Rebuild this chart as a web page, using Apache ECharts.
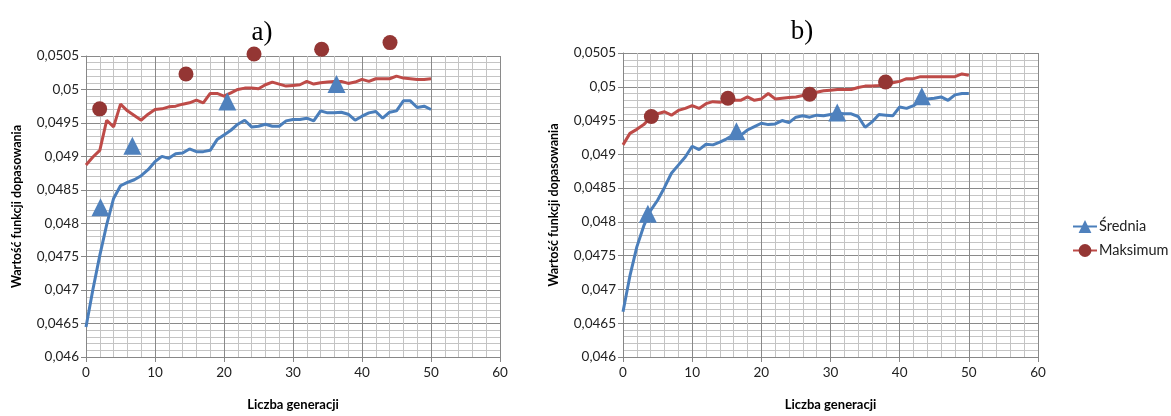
<!DOCTYPE html>
<html>
<head>
<meta charset="utf-8">
<script src="https://cdn.jsdelivr.net/npm/echarts@6/dist/echarts.min.js"></script>
<style>
html,body{margin:0;padding:0;background:#fff;}
#chart{width:1171px;height:416px;}
</style>
</head>
<body>
<div id="chart"></div>
<script>
// ---- data ----
const generations = Array.from({length: 51}, (_, i) => i); // 0..50
const xTicks = [0, 10, 20, 30, 40, 50, 60];
const yTicks = [0.046, 0.0465, 0.047, 0.0475, 0.048, 0.0485, 0.049, 0.0495, 0.05, 0.0505];

const avgA = [0.04645,0.04701,0.04752,0.04798,0.04837,0.04856,0.04861,0.04865,0.04871,0.0488,
  0.04892,0.049,0.04897,0.04904,0.04905,0.04911,0.04907,0.04907,0.04909,0.04925,
  0.04932,0.04939,0.04948,0.04954,0.04944,0.04945,0.04948,0.04945,0.04945,0.04953,
  0.04955,0.04955,0.04957,0.04953,0.04968,0.04965,0.04965,0.04966,0.04963,0.04954,
  0.0496,0.04965,0.04967,0.04957,0.04966,0.04968,0.04983,0.04983,0.04973,0.04975,0.0497];
const maxA = [0.04887,0.04899,0.04909,0.04954,0.04944,0.04978,0.04968,0.04961,0.04954,0.04963,
  0.0497,0.04971,0.04974,0.04975,0.04978,0.0498,0.04984,0.0498,0.04994,0.04994,
  0.0499,0.04995,0.05,0.05002,0.05002,0.05001,0.05007,0.05011,0.05008,0.05005,
  0.05006,0.05007,0.05012,0.05008,0.0501,0.05011,0.05012,0.05012,0.05009,0.05011,
  0.05015,0.05012,0.05016,0.05016,0.05016,0.0502,0.05017,0.05016,0.05015,0.05015,0.05016];
const avgB = [0.04667,0.0472,0.04763,0.04794,0.04817,0.04832,0.04851,0.04872,0.04884,0.04896,
  0.04912,0.04907,0.04915,0.04914,0.04918,0.04923,0.04929,0.04928,0.04936,0.04941,
  0.04946,0.04944,0.04945,0.0495,0.04947,0.04955,0.04957,0.04955,0.04958,0.04957,
  0.04959,0.04961,0.0496,0.0496,0.04956,0.0494,0.04948,0.04959,0.04958,0.04957,
  0.0497,0.04968,0.04972,0.0498,0.04982,0.04983,0.04985,0.0498,0.04988,0.0499,0.0499];
const maxB = [0.04914,0.04931,0.04937,0.04944,0.04955,0.0496,0.04963,0.04958,0.04965,0.04968,
  0.04972,0.04968,0.04975,0.04978,0.04977,0.0498,0.0498,0.0498,0.04985,0.0498,
  0.04982,0.0499,0.04982,0.04983,0.04984,0.04985,0.04987,0.04989,0.04992,0.04994,
  0.04995,0.04996,0.04996,0.04996,0.04999,0.05001,0.05001,0.05002,0.05004,0.05006,
  0.05008,0.05012,0.05012,0.05015,0.05015,0.05015,0.05015,0.05015,0.05015,0.05019,0.05017];

// marker positions (as drawn in the reference)
const triAx = [2.1, 6.72, 20.48, 36.3];
const triAy = [0.04824, 0.04916, 0.04982, 0.05008];
const cirAx = [1.98, 14.49, 24.35, 34.15, 44.06];
const cirAy = [0.04971, 0.05023, 0.05053, 0.0506, 0.0507];
const triBx = [3.6, 16.4, 30.98, 43.2];
const triBy = [0.04812, 0.04934, 0.04962, 0.04986];
const cirBx = [4.1, 15.17, 26.98, 37.96];
const cirBy = [0.04956, 0.04983, 0.04989, 0.05007];

const seriesNames = ['Średnia', 'Maksimum'];
const titles = ['a)', 'b)'];
const xName = 'Liczba generacji';
const yName = 'Wartość funkcji dopasowania';

// ---- styles ----
const BLUE_LINE = '#4A7EBB', BLUE_MARK = '#4F81BD';
const RED_LINE = '#BE4B48', RED_MARK = '#943634';
const FONT = 'Lato';

function pairs(xs, ys) { return xs.map((x, i) => [x, ys[i]]); }
function fmtY(v) { return String(parseFloat(v.toFixed(4))).replace('.', ','); }

function xAxis(gi) {
  return {
    type: 'value', gridIndex: gi, min: 0, max: 60, interval: 10,
    name: xName, nameLocation: 'middle', nameGap: 41,
    nameTextStyle: {fontFamily: FONT, fontSize: 13, fontWeight: 'bold', color: '#000'},
    axisLine: {show: true, lineStyle: {color: '#878787', width: 1}},
    axisTick: {show: true, length: 5, lineStyle: {color: '#878787'}},
    axisLabel: {fontFamily: FONT, fontSize: 13.5, color: '#222', margin: 9},
    splitLine: {show: true, lineStyle: {color: '#8a8a8a', width: 1}},
    minorTick: {show: false, splitNumber: 5},
    minorSplitLine: {show: true, lineStyle: {color: '#c4c4c4', width: 1}}
  };
}
function yAxis(gi) {
  return {
    type: 'value', gridIndex: gi, min: 0.046, max: 0.0505, interval: 0.0005,
    name: yName, nameLocation: 'middle', nameGap: 63, nameRotate: 90,
    nameTextStyle: {fontFamily: FONT, fontSize: 12.5, fontWeight: 'bold', color: '#000'},
    axisLine: {show: true, lineStyle: {color: '#878787', width: 1}},
    axisTick: {show: true, length: 5, lineStyle: {color: '#878787'}},
    axisLabel: {fontFamily: FONT, fontSize: 13.5, color: '#222', margin: 7, formatter: fmtY},
    splitLine: {show: true, lineStyle: {color: '#8a8a8a', width: 1}},
    minorTick: {show: false, splitNumber: 5},
    minorSplitLine: {show: true, lineStyle: {color: '#c4c4c4', width: 1}}
  };
}
function lineSeries(name, gi, ys, lineColor, markColor, symbol) {
  return {
    name, type: 'line', xAxisIndex: gi, yAxisIndex: gi,
    data: generations.map((g, i) => [g, ys[i]]),
    symbol, showSymbol: false, smooth: false,
    lineStyle: {color: lineColor, width: 3},
    itemStyle: {color: markColor},
    emphasis: {disabled: true}, z: 3
  };
}
function markSeries(name, gi, xs, ys, color, symbol, size) {
  return {
    name, type: 'scatter', xAxisIndex: gi, yAxisIndex: gi,
    data: pairs(xs, ys), symbol, symbolSize: size, clip: false,
    itemStyle: {color, opacity: 1}, emphasis: {disabled: true}, z: 5
  };
}

const chart = echarts.init(document.getElementById('chart'), null, {renderer: 'canvas'});
chart.setOption({
  animation: false,
  backgroundColor: '#fff',
  title: [
    {text: titles[0], left: 257, top: 28, textAlign: 'center', textVerticalAlign: 'middle',
     textStyle: {fontFamily: 'Liberation Serif', fontSize: 27, fontWeight: 'normal', color: '#000'}},
    {text: titles[1], left: 797, top: 27, textAlign: 'center', textVerticalAlign: 'middle',
     textStyle: {fontFamily: 'Liberation Serif', fontSize: 27, fontWeight: 'normal', color: '#000'}}
  ],
  legend: {
    data: seriesNames, orient: 'vertical', left: 1067, top: 214,
    itemWidth: 24, itemHeight: 16, itemGap: 9,
    textStyle: {fontFamily: FONT, fontSize: 14.5, color: '#222', padding: [0, 0, 0, -3]},
    selectedMode: false
  },
  grid: [
    {left: 86, top: 56, width: 414, height: 310, containLabel: false},
    {left: 623, top: 53, width: 415, height: 315, containLabel: false}
  ],
  xAxis: [xAxis(0), xAxis(1)],
  yAxis: [yAxis(0), yAxis(1)],
  series: [
    lineSeries(seriesNames[0], 0, avgA, BLUE_LINE, BLUE_MARK, 'triangle'),
    lineSeries(seriesNames[1], 0, maxA, RED_LINE, RED_MARK, 'circle'),
    markSeries(seriesNames[0], 0, triAx, triAy, BLUE_MARK, 'triangle', 18),
    markSeries(seriesNames[1], 0, cirAx, cirAy, RED_MARK, 'circle', 15),
    lineSeries(seriesNames[0], 1, avgB, BLUE_LINE, BLUE_MARK, 'triangle'),
    lineSeries(seriesNames[1], 1, maxB, RED_LINE, RED_MARK, 'circle'),
    markSeries(seriesNames[0], 1, triBx, triBy, BLUE_MARK, 'triangle', 18),
    markSeries(seriesNames[1], 1, cirBx, cirBy, RED_MARK, 'circle', 15)
  ]
});
</script>
</body>
</html>
